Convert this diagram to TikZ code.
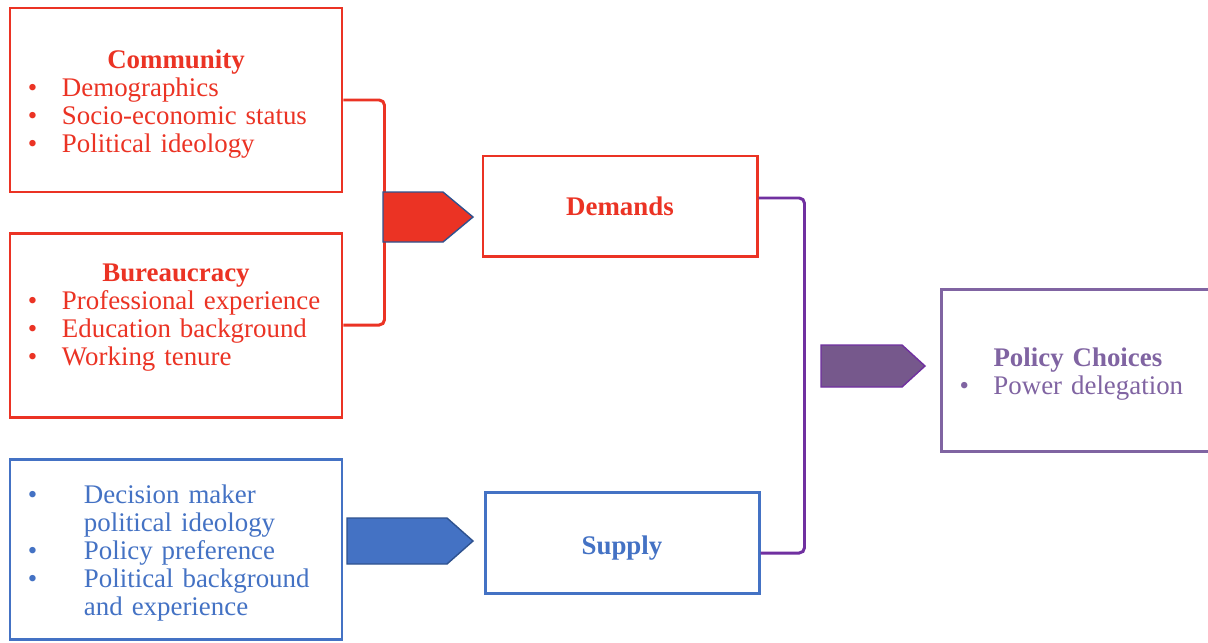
\documentclass[tikz,border=0pt]{standalone}
\usepackage{fontspec}
\setmainfont{Liberation Serif}
\usepackage{xcolor}
\usepackage{tikz}
\definecolor{redline}{RGB}{235,51,36}
\definecolor{blueline}{RGB}{68,114,196}
\definecolor{darkblue}{RGB}{47,82,143}
\definecolor{purpleline}{RGB}{112,48,160}
\definecolor{purplefill}{RGB}{118,88,140}
\definecolor{policycolor}{RGB}{128,100,162}

\newcommand{\bul}[1][0.68cm]{\makebox[#1][l]{\textbullet}}
\newcommand{\toprule}[1]{\rule{0pt}{#1}}

\begin{document}
\begin{tikzpicture}[
        box/.style={draw, line width=1.7pt, inner sep=0pt, align=left, font=\fontsize{15.3}{15.9}\selectfont},
        redbox/.style={box, draw=redline, text=redline},
        bluebox/.style={box, draw=blueline, text=blueline},
        purplebox/.style={box, draw=policycolor, text=policycolor},
        bracket/.style={line width=1.7pt, rounded corners=3pt},
        arrowshape/.style={line width=0.8pt, line join=miter}
    ]
        \fill[white] (0,0) rectangle (24.16,-12.84);
        \useasboundingbox (0,0) rectangle (24.16,-12.84);

        % Left column: sources
        \node[redbox, minimum width=6.64cm, minimum height=3.68cm, text width=5.92cm] (COM) at (3.52,-2.0) {\toprule{0.52cm}\makebox[\linewidth]{\textbf{Community}}\\
            \bul Demographics\\
            \bul Socio-economic status\\
            \bul Political ideology};
        \node[redbox, minimum width=6.64cm, minimum height=3.68cm, text width=5.92cm] (BUR) at (3.52,-6.5) {\makebox[\linewidth]{\textbf{Bureaucracy}}\\
            \bul Professional experience\\
            \bul Education background\\
            \bul Working tenure\rule[-0.42cm]{0pt}{0pt}};
        \node[bluebox, minimum width=6.64cm, minimum height=3.6cm, text width=5.92cm] (DEC) at (3.52,-10.98) {\toprule{0.52cm}\bul[1.12cm]Decision maker\\
            \hspace*{1.12cm}political ideology\\
            \bul[1.12cm]Policy preference\\
            \bul[1.12cm]Political background\\
            \hspace*{1.12cm}and experience};

        % Middle column
        \node[redbox, align=center, minimum width=5.48cm, minimum height=2.0cm] (DEM) at (12.4,-4.12) {\textbf{Demands}};
        \node[bluebox, align=center, minimum width=5.48cm, minimum height=2.02cm] (SUP) at (12.44,-10.85) {\toprule{0.58cm}\textbf{Supply}};

        % Right column
        \node[purplebox, anchor=west, minimum width=6.2cm, minimum height=3.24cm, text width=5.48cm] (POL) at (18.8,-7.4) {\toprule{0.54cm}\hspace*{0.68cm}\textbf{Policy Choices}\\
            \bul Power delegation};

        % Brackets
        \draw[bracket, redline] (COM.east) -- ++(0.82,0) |- (BUR.east);
        \draw[bracket, purpleline] ([yshift=0.16cm]DEM.east) -- ++(0.92,0) |- ([yshift=-0.21cm]SUP.east);

        % Block arrows
        \draw[arrowshape, draw=darkblue, fill=redline] (7.66,-3.84) -- (8.86,-3.84) -- (9.46,-4.34) -- (8.86,-4.84) -- (7.66,-4.84) -- cycle;
        \draw[arrowshape, draw=darkblue, fill=blueline] (6.94,-10.36) -- (8.94,-10.36) -- (9.46,-10.82) -- (8.94,-11.28) -- (6.94,-11.28) -- cycle;
        \draw[arrowshape, draw=purpleline, fill=purplefill] (16.42,-6.9) -- (18.04,-6.9) -- (18.5,-7.32) -- (18.04,-7.74) -- (16.42,-7.74) -- cycle;

    \end{tikzpicture}
\end{document}
